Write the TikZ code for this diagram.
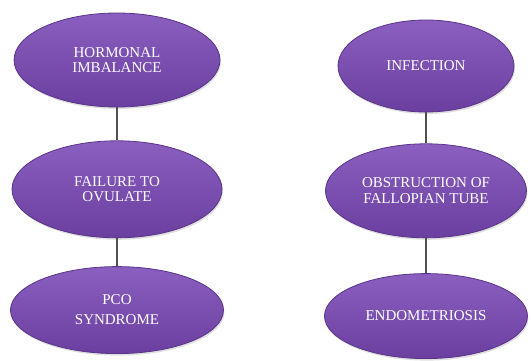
\documentclass[tikz,border=0pt]{standalone}
\usepackage{fontspec}
\setmainfont{Liberation Serif}
\usetikzlibrary{positioning, shapes.geometric, shadows}
\definecolor{causetop}{HTML}{8A5FC0}
\definecolor{causebot}{HTML}{6B3F9F}
\definecolor{causerim}{HTML}{5A3489}
\definecolor{linkgray}{HTML}{505050}
\tikzstyle{cause} = [ellipse, draw=causerim, line width=0.8pt, top color=causetop, bottom color=causebot, text=white, align=center, inner sep=0pt, font=\fontsize{15}{15.5}\selectfont, drop shadow={opacity=0.25, shadow xshift=1pt, shadow yshift=-2pt}]
\tikzstyle{link} = [draw=linkgray, line width=1.3pt]

\begin{document}
\begin{tikzpicture}[x=1pt, y=1pt]
\useasboundingbox (0,0) rectangle (531,360);
% Left column
\node (hormonal) [cause, minimum width=206pt, minimum height=94pt] at (117,300) {HORMONAL\\IMBALANCE};
\node (ovulate) [cause, minimum width=210pt, minimum height=97pt, below=33pt of hormonal] {FAILURE TO\\OVULATE};
\node (pco) [cause, minimum width=213pt, minimum height=87pt, below=28pt of ovulate] {PCO\\[4.5pt]SYNDROME};

% Right column
\node (infection) [cause, minimum width=176pt, minimum height=92pt] at (426,294) {INFECTION};
\node (tube) [cause, minimum width=201pt, minimum height=94pt, below=31pt of infection] {OBSTRUCTION OF\\FALLOPIAN TUBE};
\node (endo) [cause, minimum width=203pt, minimum height=85pt, below=35pt of tube] {ENDOMETRIOSIS};

% Connections
\draw [link] (hormonal) -- (ovulate);
\draw [link] (ovulate) -- (pco);
\draw [link] (infection) -- (tube);
\draw [link] (tube) -- (endo);

\end{tikzpicture}
\end{document}
